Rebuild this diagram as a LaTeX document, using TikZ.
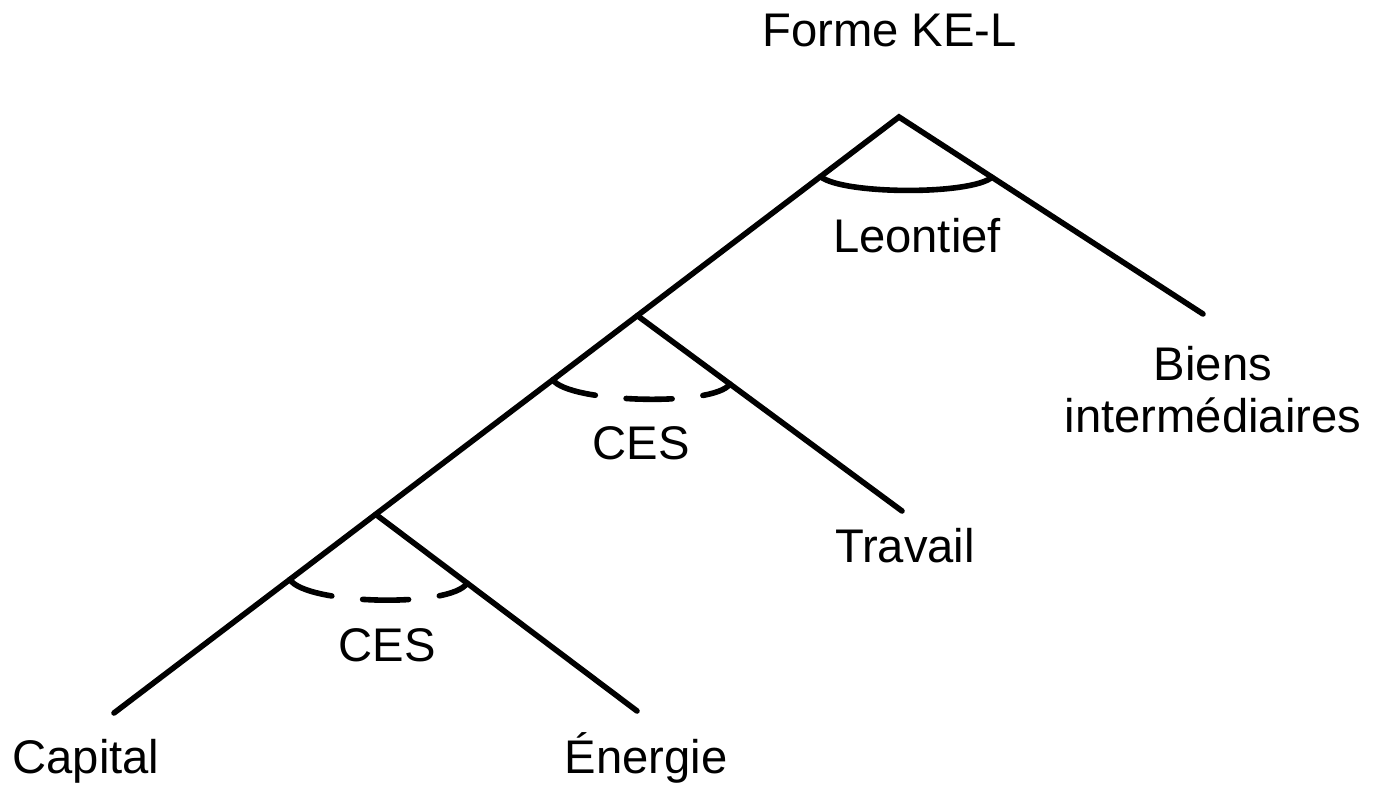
\documentclass[tikz,border=0pt]{standalone}
\usepackage{fontspec}
\setmainfont{Liberation Sans}
\usepackage{tikz}
\usetikzlibrary{calc}

\begin{document}
\begin{tikzpicture}[x=50pt,y=50pt,line width=2.8pt,line cap=round,
    lbl/.style={anchor=base,inner sep=0pt,font=\fontsize{23.6}{26}\selectfont},
    cesarc/.style={dash pattern=on 23pt off 15.5pt}]
          \useasboundingbox (0,0) rectangle (13.78,7.85);
          \coordinate (prod) at (8.99,6.68);
          \coordinate (capend) at (1.14,0.72);
          \coordinate (biensend) at (12.03,4.71);
          \coordinate (kel) at ($(prod)!1/3!(capend)$);
          \coordinate (ke) at ($(prod)!2/3!(capend)$);
          \coordinate (travend) at (9.02,2.74);
          \coordinate (enend) at (6.37,0.74);
          \draw (capend) -- (prod) -- (biensend);
          \draw (kel) -- (travend);
          \draw (ke) -- (enend);
          \draw ($(prod)!0.1!(capend)$) .. controls +(0.22,-0.18) and +(-0.22,-0.18) .. ($(prod)!0.306!(biensend)$);
          \draw[cesarc] ($(prod)!0.441!(capend)$) .. controls +(0.16,-0.23) and +(-0.16,-0.23) .. ($(kel)!0.35!(travend)$);
          \draw[cesarc] ($(prod)!0.776!(capend)$) .. controls +(0.16,-0.25) and +(-0.16,-0.25) .. ($(ke)!0.35!(enend)$);
          \node[lbl] (forme) at (8.895,7.38) {Forme KE-L};
          \node[lbl] (leontief) at (9.17,5.32) {Leontief};
          \node[lbl] (ces1) at (6.41,3.25) {CES};
          \node[lbl] (ces2) at (3.87,1.23) {CES};
          \node[lbl,align=center] (biens) at (12.13,3.52) {Biens\\intermédiaires};
          \node[lbl] (travail) at (9.05,2.22) {Travail};
          \node[lbl] (capital) at (0.86,0.11) {Capital};
          \node[lbl] (energie) at (6.46,0.11) {Énergie};
        \end{tikzpicture}
\end{document}
